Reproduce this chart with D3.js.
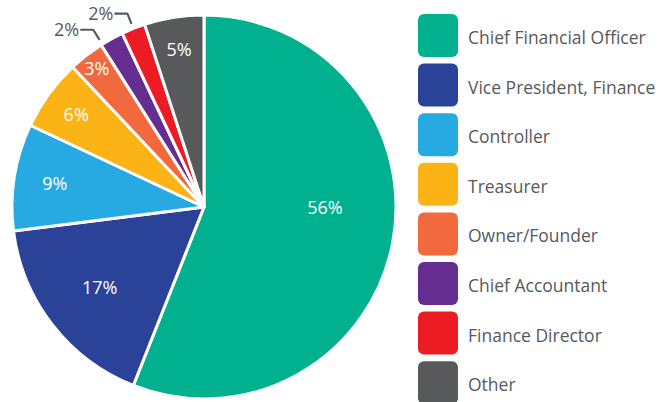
<!DOCTYPE html>
<html>
<head>
<meta charset="utf-8">
<script src="https://cdn.jsdelivr.net/npm/d3@7"></script>
<style>
  html, body { margin: 0; padding: 0; background: #fff; }
  svg { display: block; }
  text { font-family: "Open Sans", "Noto Sans", sans-serif; }
</style>
</head>
<body>
<svg id="chart" width="659" height="402"></svg>
<script>
// ---- data ----
const categories = ["Chief Financial Officer", "Vice President, Finance", "Controller", "Treasurer",
                    "Owner/Founder", "Chief Accountant", "Finance Director", "Other"];
const values = [56, 17, 9, 6, 3, 2, 2, 5];
const colors = ["#00b08f", "#2b4299", "#27aae1", "#fcb316", "#f1693c", "#652d90", "#ed1c24", "#58595b"];

// ---- layout (label placement, not data) ----
// radius in px from centre; optional fixed angle (deg, clockwise from 12 o'clock); outside = leader label
const labelLayout = [
  { r: 121, angle: 90 },
  { r: 132 },
  { r: 151 },
  { r: 158 },
  { r: 175 },
  { r: 209, outside: true, angle: 328 },
  { r: 208, outside: true },
  { r: 159 }
];

const W = 659, H = 402;
const cx = 204, cy = 207, R = 192;
const textGray = "#58595b";

const svg = d3.select("#chart");
const g = svg.append("g").attr("transform", `translate(${cx},${cy})`);

const pie = d3.pie().sort(null).value(d => d.value).startAngle(0).endAngle(2 * Math.PI);
const data = categories.map((c, i) => ({ name: c, value: values[i], color: colors[i] }));
const arcs = pie(data);
const arc = d3.arc().innerRadius(0).outerRadius(R);

g.selectAll("path.slice")
  .data(arcs)
  .join("path")
  .attr("class", "slice")
  .attr("d", arc)
  .attr("fill", d => d.data.color)
  .attr("stroke", "#fff")
  .attr("stroke-width", 3)
  .attr("stroke-linejoin", "round");

const pol = (angDeg, r) => {
  const a = angDeg * Math.PI / 180;
  return [r * Math.sin(a), -r * Math.cos(a)];
};

arcs.forEach((d, i) => {
  const L = labelLayout[i];
  const mid = (d.startAngle + d.endAngle) / 2 * 180 / Math.PI;
  const ang = L.angle !== undefined ? L.angle : mid;
  const txt = d.data.value + "%";
  if (!L.outside) {
    const [x, y] = pol(ang, L.r);
    g.append("text")
      .attr("x", x).attr("y", y + 6.5)
      .attr("text-anchor", "middle")
      .attr("fill", "#fff")
      .attr("font-size", 18)
      .text(txt);
  } else {
    const [ex, ey] = pol(ang, R + 5);
    const [bx, by] = pol(ang, L.r);
    const hx = bx - 13;
    g.append("path")
      .attr("d", `M${hx},${by}L${bx},${by}L${ex},${ey}`)
      .attr("fill", "none")
      .attr("stroke", textGray)
      .attr("stroke-width", 2.2)
      .attr("stroke-linejoin", "round");
    g.append("text")
      .attr("x", hx - 1).attr("y", by + 6)
      .attr("text-anchor", "end")
      .attr("fill", textGray)
      .attr("font-size", 18)
      .text(txt);
  }
});

// ---- legend ----
const legendY = d3.scaleLinear().domain([0, categories.length - 1]).range([14, 361.2]);
const legend = svg.append("g");
const items = legend.selectAll("g.item")
  .data(data)
  .join("g")
  .attr("class", "item")
  .attr("transform", (d, i) => `translate(418,${legendY(i)})`);

items.append("rect")
  .attr("width", 40).attr("height", 43)
  .attr("rx", 6).attr("ry", 6)
  .attr("fill", d => d.color);

items.append("text")
  .attr("x", 50).attr("y", 30)
  .attr("fill", textGray)
  .attr("font-size", 17.5)
  .text(d => d.name);
</script>
</body>
</html>
